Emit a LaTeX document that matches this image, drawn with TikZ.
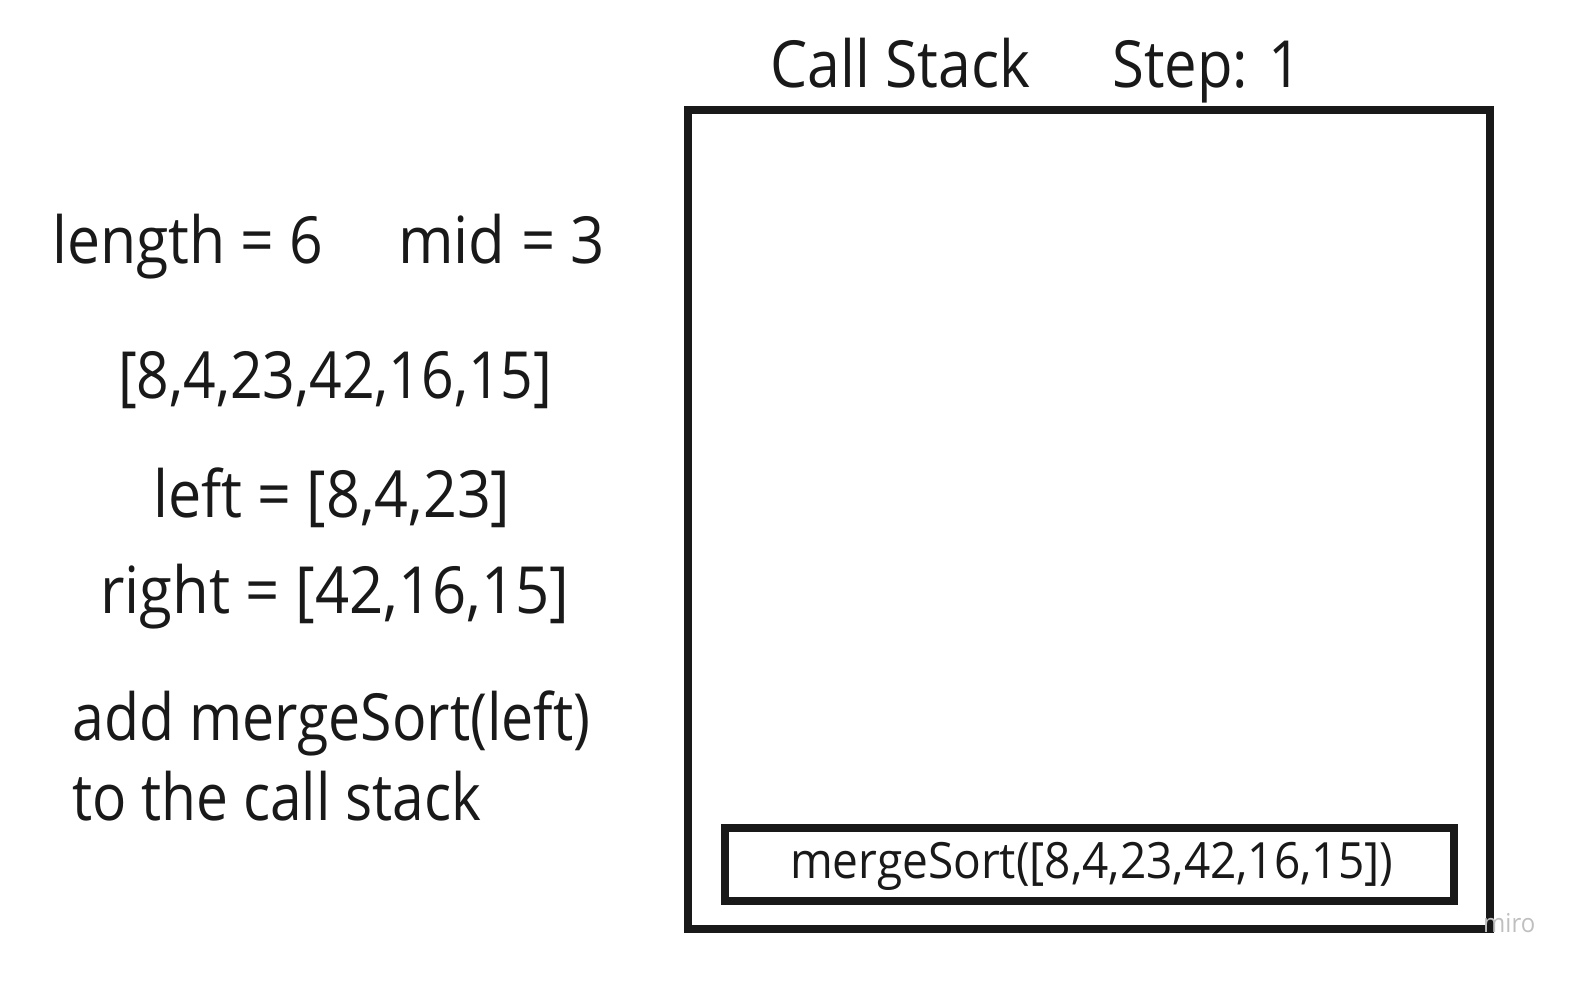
\documentclass[tikz,border=0pt]{standalone}
\usepackage{graphicx}
\usepackage{fontspec}
\setmainfont{Open Sans}[FakeStretch=0.92]
\newcommand{\hsc}[2]{\scalebox{#1}[1]{#2}}
\begin{document}
\begin{tikzpicture}[x=1pt,y=-1pt,
  big/.style={inner sep=0pt,anchor=base west,text=black!90,font=\fontsize{65}{78}\selectfont},
  small/.style={inner sep=0pt,anchor=base west,text=black!90,font=\fontsize{50}{60}\selectfont},
  frame/.style={draw=black!90,line width=7.5pt}]
\useasboundingbox (0,0) rectangle (1590,982);
\draw[frame] (688,110) rectangle (1490,929);
\draw[frame] (725,828) rectangle (1454,901);
\node[big] (title) at (770,88) {\hsc{0.985}{Call Stack}};
\node[big] (step) at (1112,88) {\hsc{0.97}{Step: 1}};
\node[big] (len) at (52,263) {\hsc{0.985}{length = 6}};
\node[big] (mid) at (398,263) {mid = 3};
\node[big] (arr) at (118,398) {\hsc{0.955}{[8,4,23,42,16,15]}};
\node[big] (left) at (153,517) {\hsc{0.99}{left = [8,4,23]}};
\node[big] (right) at (100,613) {right = [42,16,15]};
\node[big] (add) at (72,740) {\hsc{0.957}{add mergeSort(left)}};
\node[big] (to) at (72,820) {\hsc{0.951}{to the call stack}};
\node[small] (ms) at (790,878) {mergeSort([8,4,23,42,16,15])};
\node[inner sep=0pt,anchor=base west,text=black!25,font=\fontsize{26}{30}\selectfont] (miro) at (1483,932) {miro};
\end{tikzpicture}
\end{document}
